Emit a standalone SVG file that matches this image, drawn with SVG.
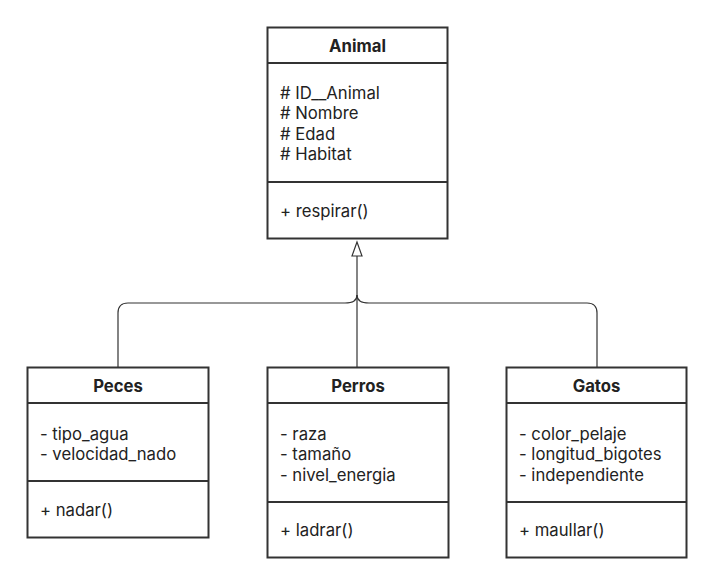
<svg xmlns="http://www.w3.org/2000/svg" width="713" height="588" viewBox="0 0 713 588">
<style>
.box{fill:#fff;stroke:#333;stroke-width:2}
.sep{stroke:#333;stroke-width:2;fill:none}
.t{font-family:Inter,"Liberation Sans",sans-serif;font-size:16.7px;fill:#222}
.h{font-family:Inter,"Liberation Sans",sans-serif;font-size:16.7px;font-weight:bold;fill:#222;text-anchor:middle}
.c{fill:none;stroke:#333;stroke-width:1.2}
</style>
<rect width="713" height="588" fill="#fff"/>
<g id="connectors">
<path class="c" d="M118 367 L118 313 Q118 303 128 303 L345 303 Q357 303 357 295"/>
<path class="c" d="M597 367 L597 313 Q597 303 587 303 L369 303 Q357 303 357 295"/>
<path class="c" d="M357 367 L357 256"/>
<path d="M357 242 L352 256 L362 256 Z" fill="#fff" stroke="#333" stroke-width="1.2"/>
</g>
<g id="Animal">
<rect class="box" x="267.5" y="27.5" width="180" height="211"/>
<line class="sep" x1="267.5" y1="63" x2="447.5" y2="63"/>
<line class="sep" x1="267.5" y1="182" x2="447.5" y2="182"/>
<text class="h" x="357.5" y="52">Animal</text>
<text class="t" x="280" y="99"># ID__Animal</text>
<text class="t" x="280" y="119"># Nombre</text>
<text class="t" x="280" y="139.5"># Edad</text>
<text class="t" x="280" y="160"># Habitat</text>
<text class="t" x="280" y="216.5">+ respirar()</text>
</g>
<g id="Peces">
<rect class="box" x="27.5" y="367.5" width="181" height="170"/>
<line class="sep" x1="27.5" y1="403" x2="208.5" y2="403"/>
<line class="sep" x1="27.5" y1="481" x2="208.5" y2="481"/>
<text class="h" x="118" y="392">Peces</text>
<text class="t" x="40" y="439.5">- tipo_agua</text>
<text class="t" x="40" y="460">- velocidad_nado</text>
<text class="t" x="40" y="515.5">+ nadar()</text>
</g>
<g id="Perros">
<rect class="box" x="267.5" y="367.5" width="181" height="190"/>
<line class="sep" x1="267.5" y1="403" x2="448.5" y2="403"/>
<line class="sep" x1="267.5" y1="502" x2="448.5" y2="502"/>
<text class="h" x="358" y="392">Perros</text>
<text class="t" x="280" y="439.5">- raza</text>
<text class="t" x="280" y="460">- tamaño</text>
<text class="t" x="280" y="480.5">- nivel_energia</text>
<text class="t" x="280" y="535.5">+ ladrar()</text>
</g>
<g id="Gatos">
<rect class="box" x="506.5" y="367.5" width="180" height="190"/>
<line class="sep" x1="506.5" y1="403" x2="686.5" y2="403"/>
<line class="sep" x1="506.5" y1="502" x2="686.5" y2="502"/>
<text class="h" x="596.5" y="392">Gatos</text>
<text class="t" x="519" y="439.5">- color_pelaje</text>
<text class="t" x="519" y="460">- longitud_bigotes</text>
<text class="t" x="519" y="480.5">- independiente</text>
<text class="t" x="519" y="535.5">+ maullar()</text>
</g>
</svg>
